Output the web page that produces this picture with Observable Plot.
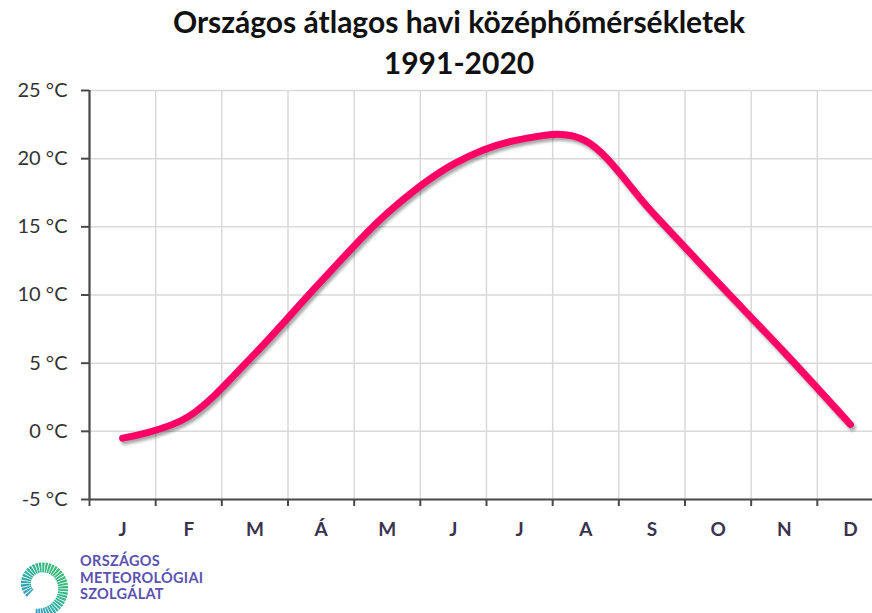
<!DOCTYPE html>
<html>
<head>
<meta charset="utf-8">
<script src="https://cdn.jsdelivr.net/npm/d3@7"></script>
<script src="https://cdn.jsdelivr.net/npm/@observablehq/plot@0.6"></script>
<style>
  html, body { margin: 0; padding: 0; background: #fff; }
  body { width: 872px; height: 613px; overflow: hidden; position: relative; font-family: Lato, "Open Sans", sans-serif; }
  #title { position: absolute; left: 0; top: 1px; width: 918px; text-align: center; font-weight: bold; font-size: 30px; line-height: 41px; color: #111; }
  #chart { position: absolute; left: 0; top: 80px; }
  #logo { position: absolute; left: 4px; top: 548px; width: 260px; height: 65px; }
  #logo .txt { position: absolute; left: 76px; top: 5px; font-family: Lato, sans-serif; font-weight: bold; font-size: 14.5px; line-height: 16.5px; color: #5b52b0; letter-spacing: 0.3px; }
</style>
</head>
<body>
<div id="title">Országos átlagos havi középhőmérsékletek<br>1991-2020</div>
<div id="chart"></div>
<div id="logo">
  <svg width="74" height="70" viewBox="0 0 74 70">
    <defs>
      <linearGradient id="lg" x1="1" y1="0" x2="0" y2="1">
        <stop offset="0" stop-color="#3dbf6e"/>
        <stop offset="0.55" stop-color="#2fb0a0"/>
        <stop offset="1" stop-color="#3a8fd6"/>
      </linearGradient>
    </defs>
    <path id="spiral" fill="none" stroke="url(#lg)" stroke-width="10" stroke-linecap="butt" stroke-dasharray="2 0.8"></path>
  </svg>
  <div class="txt">ORSZÁGOS<br>METEOROLÓGIAI<br>SZOLGÁLAT</div>
</div>
<script>
// ---- data ----
const months = ["J", "F", "M", "Á", "M", "J", "J", "A", "S", "O", "N", "D"];
const temps = [-0.5, 1.1, 5.7, 11.0, 16.0, 19.6, 21.4, 21.3, 16.1, 10.9, 5.8, 0.5];
const yTicks = [-5, 0, 5, 10, 15, 20, 25];
const bandEdges = [0, 1, 2, 3, 4, 5, 6, 7, 8, 9, 10, 11, 12];

const data = months.map((m, i) => ({pos: i + 0.5, month: m, t: temps[i]}));
const monthCenters = months.map((m, i) => i + 0.5);

const pink = "#ff0066";
const grid = "#d9d9d9";
const axisCol = "#4a4a4a";

const chart = Plot.plot({
  width: 872,
  height: 460,
  marginLeft: 89,
  marginRight: -11,
  marginTop: 10,
  marginBottom: 41,
  style: {fontFamily: "Lato, 'Open Sans', sans-serif", color: axisCol, background: "transparent", overflow: "visible"},
  x: {domain: [0, 12], axis: null},
  y: {domain: [-5, 25], axis: null},
  marks: [
    Plot.gridY(yTicks, {stroke: grid, strokeOpacity: 1, strokeWidth: 1.5}),
    Plot.gridX(bandEdges, {stroke: grid, strokeOpacity: 1, strokeWidth: 1.5}),
    Plot.axisY(yTicks, {tickSize: 8, tickPadding: 14, strokeWidth: 2, fontSize: 20, label: null, tickFormat: d => `${d} °C`, fill: "#333"}),
    Plot.axisX(bandEdges, {tickSize: 7, strokeWidth: 2, tickFormat: () => "", label: null}),
    Plot.axisX(monthCenters, {tickSize: 0, tickPadding: 23, fontSize: 19, fontWeight: "bold", label: null, tickFormat: d => months[Math.floor(d)], fill: "#3a3350"}),
    Plot.ruleX([0], {stroke: axisCol, strokeWidth: 2.2}),
    Plot.ruleY([-5], {stroke: axisCol, strokeWidth: 2.2}),
    Plot.line(data, {x: "pos", y: "t", curve: "cardinal", stroke: "#000", strokeOpacity: 0.35, strokeWidth: 7, dx: 2, dy: 3, strokeLinecap: "round", strokeLinejoin: "round"}),
    Plot.line(data, {x: "pos", y: "t", curve: "cardinal", stroke: pink, strokeWidth: 7, strokeLinecap: "round", strokeLinejoin: "round"})
  ]
});

// soft shadow on the first line mark
const ns = "http://www.w3.org/2000/svg";
const defs = document.createElementNS(ns, "defs");
defs.innerHTML = '<filter id="blur" x="-5%" y="-5%" width="110%" height="110%"><feGaussianBlur stdDeviation="1.6"/></filter>';
chart.insertBefore(defs, chart.firstChild);
const lines = chart.querySelectorAll('g[aria-label="line"]');
if (lines.length) lines[0].setAttribute("filter", "url(#blur)");

document.getElementById("chart").appendChild(chart);

// logo spiral (decorative)
(function () {
  const cx = 36, cy = 38, pts = [];
  for (let k = 0; k <= 120; k++) {
    const a = -Math.PI * 0.55 + (k / 120) * Math.PI * 1.75;
    const r = 28 - (k / 120) * 16;
    pts.push([cx + r * Math.cos(-a), cy + r * Math.sin(-a)]);
  }
  document.getElementById("spiral").setAttribute("d", d3.line().curve(d3.curveBasis)(pts));
})();
</script>
</body>
</html>
